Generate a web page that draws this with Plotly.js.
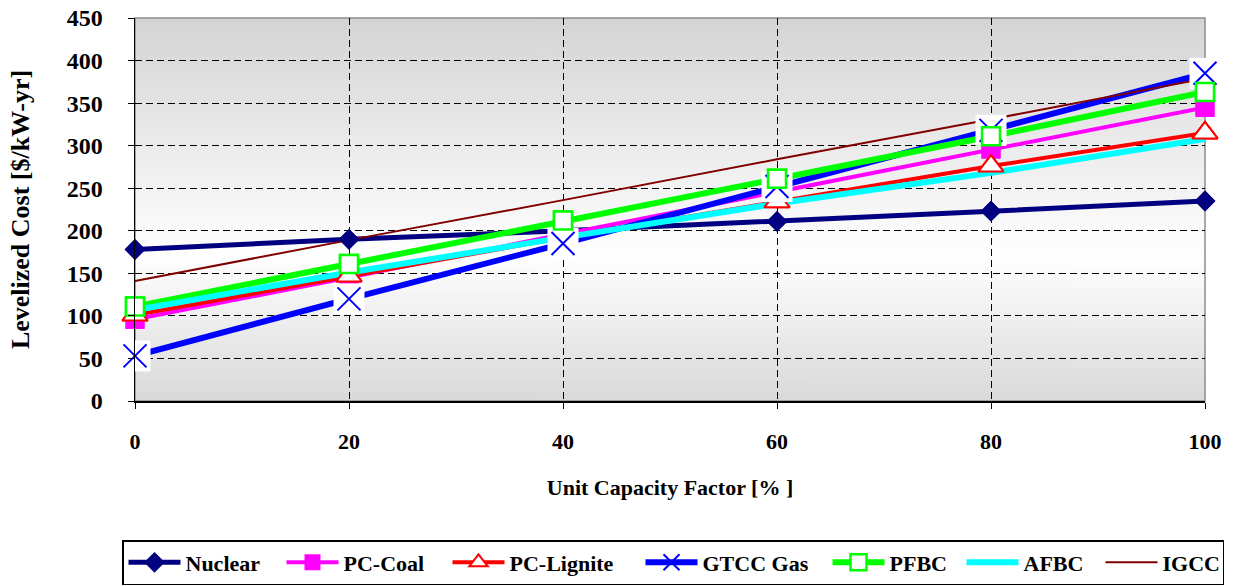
<!DOCTYPE html>
<html>
<head>
<meta charset="utf-8">
<script src="https://cdn.plot.ly/plotly-3.0.1.min.js"></script>
<style>
html,body{margin:0;padding:0;background:#fff;}
#chart{width:1233px;height:586px;}
</style>
</head>
<body>
<div id="chart"></div>
<script>
// ---- data ----
const capacityFactor = [0, 20, 40, 60, 80, 100];
const nuclear   = [178, 190, 200, 211, 223, 235];
const pcCoal    = [96, 145, 196, 246, 296, 345];
const pcLignite = [101, 147, 192, 234, 276, 315];
const gtccGas   = [53, 120, 185, 252, 318, 385];
const pfbc      = [111, 161, 212, 261, 311, 363];
const afbc      = [107, 151, 192, 232, 268, 308];
const igcc      = [141, 189, 236, 284, 331, 379];
const seriesNames = ["Nuclear", "PC-Coal", "PC-Lignite", "GTCC Gas", "PFBC", "AFBC", "IGCC"];
const yTicks = [0, 50, 100, 150, 200, 250, 300, 350, 400, 450];
const xTicks = [0, 20, 40, 60, 80, 100];

// gradient background for the plot area
const cv = document.createElement('canvas');
cv.width = 4; cv.height = 400;
const cx = cv.getContext('2d');
const g = cx.createLinearGradient(0, 0, 0, 400);
g.addColorStop(0, '#d4d4d4');
g.addColorStop(0.62, '#ffffff');
g.addColorStop(1, '#d9d9d9');
cx.fillStyle = g; cx.fillRect(0, 0, 4, 400);
const bgURL = cv.toDataURL();

const serif = '"Liberation Serif", "Times New Roman", serif';

const defs = [
  {y: nuclear,   color: '#000080', width: 5, lw: 91,  marker: {symbol: 'diamond', size: 16, color: '#000080'}},
  {y: pcCoal,    color: '#ff00ff', width: 4, lw: 99,  marker: {symbol: 'square', size: 19, color: '#ff00ff'}},
  {y: pcLignite, color: '#ff0000', width: 4, lw: 126, marker: {symbol: 'triangle-up', size: 22, color: '#ffffff', line: {color: '#ff0000', width: 2}}},
  {y: gtccGas,   color: '#0000ff', width: 6, lw: 120, marker: {symbol: 'x-thin', size: 23, color: '#0000ff', line: {color: '#0000ff', width: 2}}},
  {y: pfbc,      color: '#00ff00', width: 6, lw: 67,  marker: {symbol: 'square', size: 18, color: '#ffffff', line: {color: '#00ff00', width: 2.5}}},
  {y: afbc,      color: '#00ffff', width: 6, lw: 72,  marker: null},
  {y: igcc,      color: '#800000', width: 2, lw: 55,  marker: null}
];

const traces = [];
// lines (with legend entries)
defs.forEach((d, i) => {
  const t = {
    x: capacityFactor, y: d.y, name: seriesNames[i], type: 'scatter',
    mode: d.marker ? 'lines+markers' : 'lines',
    line: {color: d.color, width: d.width},
    legendgroup: seriesNames[i], legendwidth: d.lw, cliponaxis: false,
    hoverinfo: 'x+y+name'
  };
  if (d.marker) t.marker = d.marker;
  traces.push(t);
});
// markers on top of all lines
defs.forEach((d, i) => {
  if (!d.marker) return;
  if (seriesNames[i] === 'GTCC Gas') {
    traces.push({x: capacityFactor, y: d.y, type: 'scatter', mode: 'markers', showlegend: false,
      legendgroup: seriesNames[i], hoverinfo: 'skip', cliponaxis: false,
      marker: {symbol: 'square', size: 31, color: '#ffffff'}});
  }
  traces.push({x: capacityFactor, y: d.y, type: 'scatter', mode: 'markers', showlegend: false,
    legendgroup: seriesNames[i], hoverinfo: 'skip', cliponaxis: false, marker: d.marker});
});

const layout = {
  width: 1233, height: 586,
  margin: {l: 135, r: 28, t: 18, b: 185, autoexpand: false},
  paper_bgcolor: '#ffffff',
  plot_bgcolor: 'rgba(0,0,0,0)',
  showlegend: true,
  font: {family: serif, color: '#000000'},
  images: [{source: bgURL, xref: 'paper', yref: 'paper', x: 0, y: 1, sizex: 1, sizey: 1,
            sizing: 'stretch', layer: 'below', xanchor: 'left', yanchor: 'top'}],
  shapes: [{type: 'rect', xref: 'paper', yref: 'paper', x0: 0, x1: 1, y0: 0, y1: 1,
            line: {color: '#8c8c8c', width: 1.5}, layer: 'below'}],
  xaxis: {
    range: [0, 100], tickvals: xTicks, ticktext: xTicks.map(String),
    showgrid: true, gridcolor: '#000000', gridwidth: 1, griddash: '7px,4px',
    zeroline: false, showline: true, linecolor: '#000000', linewidth: 1.5,
    ticks: 'outside', ticklen: 6, tickcolor: '#000000', ticklabelstandoff: 14,
    tickfont: {family: serif, size: 22, weight: 'bold'},
    title: {text: 'Unit Capacity Factor [% ]', font: {family: serif, size: 22, weight: 'bold'}, standoff: 26},
    automargin: false, fixedrange: true
  },
  yaxis: {
    range: [0, 450], tickvals: yTicks, ticktext: yTicks.map(String),
    showgrid: true, gridcolor: '#000000', gridwidth: 1, griddash: '7px,4px',
    zeroline: false, showline: true, linecolor: '#000000', linewidth: 1.5,
    ticks: 'outside', ticklen: 6, tickcolor: '#000000', ticklabelstandoff: 20,
    tickfont: {family: serif, size: 24, weight: 'bold'},
    title: {text: 'Levelized Cost [$/kW-yr]', font: {family: serif, size: 26, weight: 'bold'}, standoff: 29},
    automargin: false, fixedrange: true
  },
  legend: {
    orientation: 'h',
    x: (122 - 135) / 1070, xanchor: 'left', y: -(540 - 401) / 383, yanchor: 'top',
    bgcolor: '#ffffff', bordercolor: '#000000', borderwidth: 1.5,
    font: {family: serif, size: 22, weight: 'bold'},
    traceorder: 'normal', itemwidth: 52
  }
};

Plotly.newPlot('chart', traces, layout, {displayModeBar: false, staticPlot: true});
</script>
</body>
</html>
